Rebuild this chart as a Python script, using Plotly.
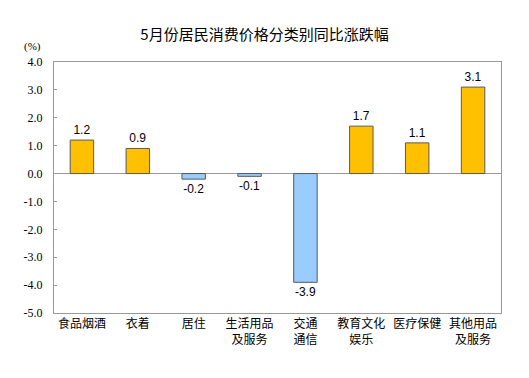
import plotly.graph_objects as go

categories = ["食品烟酒", "衣着", "居住", "生活用品<br>及服务", "交通<br>通信", "教育文化<br>娱乐", "医疗保健", "其他用品<br>及服务"]
values = [1.2, 0.9, -0.2, -0.1, -3.9, 1.7, 1.1, 3.1]
tick_vals = [4.0, 3.0, 2.0, 1.0, 0.0, -1.0, -2.0, -3.0, -4.0, -5.0]
tick_text = ["4.0", "3.0", "2.0", "1.0", "0.0", "-1.0", "-2.0", "-3.0", "-4.0", "-5.0"]

colors = ["#FFC000" if v >= 0 else "#99CCFF" for v in values]

L, R, T, B = 54, 28, 62, 65
W, H = 529, 378
pw, ph = W - L - R, H - T - B

fig = go.Figure(go.Bar(
    x=categories, y=values,
    marker=dict(color=colors, line=dict(color="#595959", width=1)),
    width=0.42,
    text=[f"{v:.1f}" for v in values],
    textposition="outside",
    textfont=dict(family="Liberation Sans, Arial", size=12, color="#000000"),
    cliponaxis=False,
))

fig.update_layout(
    width=W, height=H,
    margin=dict(l=L, r=R, t=T, b=B, autoexpand=False),
    paper_bgcolor="white", plot_bgcolor="white",
    showlegend=False,
    title=dict(text="5月份居民消费价格分类别同比涨跌幅", x=0.5, xanchor="center", y=1 - 35/H, yanchor="middle",
               font=dict(family="Noto Sans CJK SC", size=15, color="#000000"), automargin=False),
    font=dict(family="Noto Sans CJK SC", size=12, color="#000000"),
    annotations=[dict(text="(%)", x=(32 - L)/pw, y=(H - B - 46)/ph, xref="paper", yref="paper",
                      xanchor="center", yanchor="middle", showarrow=False,
                      font=dict(family="Liberation Serif, Times New Roman, serif", size=11, color="#000000"))],
)

fig.update_yaxes(
    range=[-5, 4], tickvals=tick_vals, ticktext=tick_text, automargin=False,
    showgrid=False, zeroline=True, zerolinecolor="#999999", zerolinewidth=1,
    showline=True, linecolor="#999999", linewidth=1, mirror=True,
    ticks="inside", ticklen=3, tickcolor="#999999", ticklabelstandoff=8,
    tickfont=dict(family="Liberation Serif, Times New Roman, serif", size=12, color="#000000"),
)
fig.update_xaxes(
    showgrid=False, showline=True, linecolor="#999999", linewidth=1, mirror=True, automargin=False,
    ticks="", tickfont=dict(family="Noto Sans CJK SC", size=12, color="#000000"),
)

fig.write_html("out.html", config={"displayModeBar": False},
               post_script="document.body.style.margin='0';document.body.style.overflow='hidden';")
